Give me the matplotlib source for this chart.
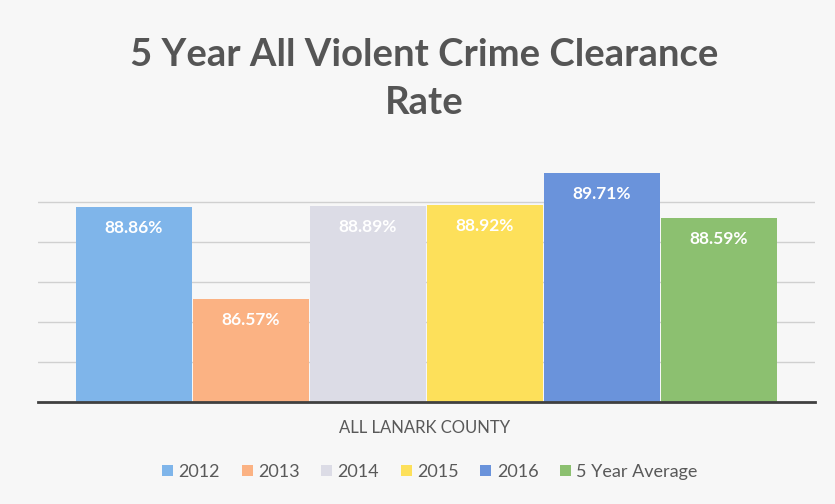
import matplotlib
matplotlib.use("Agg")
import matplotlib.pyplot as plt
from matplotlib.patches import Patch

series = ["2012", "2013", "2014", "2015", "2016", "5 Year Average"]
values = [88.86, 86.57, 88.89, 88.92, 89.71, 88.59]
labels = ["88.86%", "86.57%", "88.89%", "88.92%", "89.71%", "88.59%"]
colors = ["#7fb5ea", "#fbb283", "#dcdce6", "#fde05a", "#6a93db", "#8cc070"]
category = "ALL LANARK COUNTY"
title = "5 Year All Violent Crime Clearance\nRate"
y_min, y_max = 84, 90
grid_ticks = [85, 86, 87, 88, 89]

plt.rcParams['font.family'] = ['Lato', 'DejaVu Sans']

fig = plt.figure(figsize=(8.35, 5.04), dpi=100, facecolor="#f7f7f7")
ax = fig.add_axes([0.0455, 0.2024, 0.9305, 0.4766], facecolor="#f7f7f7")

x = list(range(len(values)))
bottoms = [y_min] * len(values)
heights = [v - y_min for v in values]
ax.bar(x, heights, bottom=bottoms, width=0.985, color=colors, zorder=3)

for xi, v, lab in zip(x, values, labels):
    ax.text(xi, v - 0.52, lab, ha="center", va="center", color="white",
            fontsize=12.5, fontweight="bold", zorder=4)

ax.set_xlim(-0.82, 5.82)
ax.set_ylim(y_min, y_max)
ax.set_yticks(grid_ticks)
ax.yaxis.grid(True, color="#d0d0d0", linewidth=1, zorder=0)
ax.tick_params(left=False, bottom=False, labelleft=False, labelbottom=False)
for s in ["top", "right", "left"]:
    ax.spines[s].set_visible(False)
ax.spines["bottom"].set_color("#404040")
ax.spines["bottom"].set_linewidth(2)
ax.spines["bottom"].set_zorder(5)

fig.text(0.508, 0.843, title, ha="center", va="center", fontsize=27.5,
         fontweight="bold", color="#555555", linespacing=1.5)
fig.text(0.508, 0.151, category, ha="center", va="center", fontsize=12,
         color="#595959")

handles = [Patch(facecolor=c, edgecolor="none") for c in colors]
fig.legend(handles, series, loc="center", bbox_to_anchor=(0.515, 0.064),
           ncol=6, frameon=False, fontsize=13, handlelength=0.6,
           handleheight=0.6, handletextpad=0.3, columnspacing=1.2,
           labelcolor="#595959")

fig.savefig("out.png", dpi=100, facecolor=fig.get_facecolor())
